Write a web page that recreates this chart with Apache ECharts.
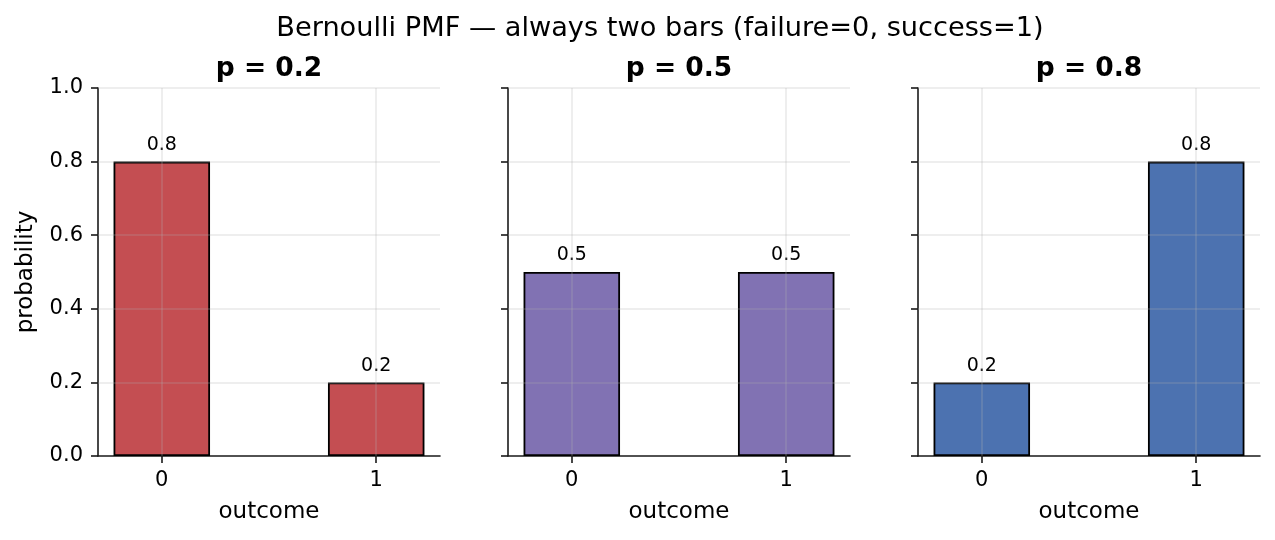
<!DOCTYPE html>
<html>
<head>
<meta charset="utf-8">
<script src="https://cdn.jsdelivr.net/npm/echarts@6/dist/echarts.min.js"></script>
<style>html,body{margin:0;padding:0;background:#fff}#c{width:1275px;height:540px}</style>
</head>
<body>
<div id="c"></div>
<script>
const suptitle = 'Bernoulli PMF — always two bars (failure=0, success=1)';
const outcomes = [0, 1];
const pValues = [0.2, 0.5, 0.8];
const pmfP02 = [0.8, 0.2];
const pmfP05 = [0.5, 0.5];
const pmfP08 = [0.2, 0.8];
const panelTitles = ['p = 0.2', 'p = 0.5', 'p = 0.8'];
const barColors = ['#C44E52', '#8172B3', '#4C72B0'];
const yTicks = [0, 0.2, 0.4, 0.6, 0.8, 1.0];
const xLabel = 'outcome';
const yLabel = 'probability';

const panels = [pmfP02, pmfP05, pmfP08];
const gridLefts = [98, 508, 918];
const gridWidth = 342;
const FONT = 'DejaVu Sans';
const axisColor = '#1a1a1a';
const gridColor = 'rgba(176,176,176,0.28)';

const barHalf = 0.225;
const margin = 0.05 * (outcomes[outcomes.length - 1] - outcomes[0] + 2 * barHalf);
const xMin = outcomes[0] - barHalf - margin;
const xMax = outcomes[outcomes.length - 1] + barHalf + margin;

const grids = [], xAxes = [], yAxes = [], series = [], titles = [];
titles.push({
  text: suptitle, left: 660, top: 15, textAlign: 'center', padding: 0,
  textStyle: {fontFamily: FONT, fontSize: 27.2, fontWeight: 'normal', color: '#000'}
});
panels.forEach((vals, i) => {
  grids.push({left: gridLefts[i], width: gridWidth, top: 88, bottom: 84, containLabel: false});
  titles.push({
    text: panelTitles[i], left: gridLefts[i] + gridWidth / 2, top: 55.5, textAlign: 'center', padding: 0,
    textStyle: {fontFamily: FONT, fontSize: 26.5, fontWeight: 'bold', color: '#000'}
  });
  xAxes.push({
    type: 'value', gridIndex: i, min: xMin, max: xMax,
    name: xLabel, nameLocation: 'middle', nameGap: 45,
    nameTextStyle: {fontFamily: FONT, fontSize: 23, color: '#000'},
    axisLine: {show: true, onZero: false, lineStyle: {color: axisColor, width: 1.6}},
    axisTick: {show: true, customValues: outcomes, length: 7, lineStyle: {color: axisColor, width: 1.6}},
    axisLabel: {show: true, customValues: outcomes, margin: 14, fontFamily: FONT, fontSize: 21, color: '#000',
      formatter: v => String(Math.round(v))},
    splitLine: {show: false}
  });
  yAxes.push({
    type: 'value', gridIndex: i, min: 0, max: 1, interval: 0.2,
    name: i === 0 ? yLabel : '', nameLocation: 'middle', nameGap: 60, nameRotate: 90,
    nameTextStyle: {fontFamily: FONT, fontSize: 23, color: '#000'},
    axisLine: {show: true, onZero: false, lineStyle: {color: axisColor, width: 1.6}},
    axisTick: {show: true, length: 7, lineStyle: {color: axisColor, width: 1.6}},
    axisLabel: {show: i === 0, margin: 15, fontFamily: FONT, fontSize: 21, color: '#000',
      formatter: v => v.toFixed(1)},
    splitLine: {show: false}
  });
  const markData = [];
  yTicks.slice(1).forEach(t => markData.push({yAxis: t}));
  outcomes.forEach(o => markData.push({xAxis: o}));
  series.push({
    type: 'bar', xAxisIndex: i, yAxisIndex: i,
    data: outcomes.map((o, k) => [o, vals[k]]),
    barWidth: (2 * barHalf) * gridWidth / (xMax - xMin),
    itemStyle: {color: barColors[i], borderColor: '#000', borderWidth: 1.8},
    label: {show: true, position: 'top', distance: 7, fontFamily: FONT, fontSize: 19, color: '#000',
      formatter: p => String(p.value[1])},
    markLine: {
      silent: true, symbol: ['none', 'none'], animation: false,
      label: {show: false},
      lineStyle: {type: 'solid', color: gridColor, width: 1.6},
      emphasis: {disabled: true},
      data: markData
    },
    animation: false
  });
});

const chart = echarts.init(document.getElementById('c'));
chart.setOption({
  backgroundColor: '#fff',
  animation: false,
  title: titles,
  grid: grids,
  xAxis: xAxes,
  yAxis: yAxes,
  series: series
});
</script>
</body>
</html>
